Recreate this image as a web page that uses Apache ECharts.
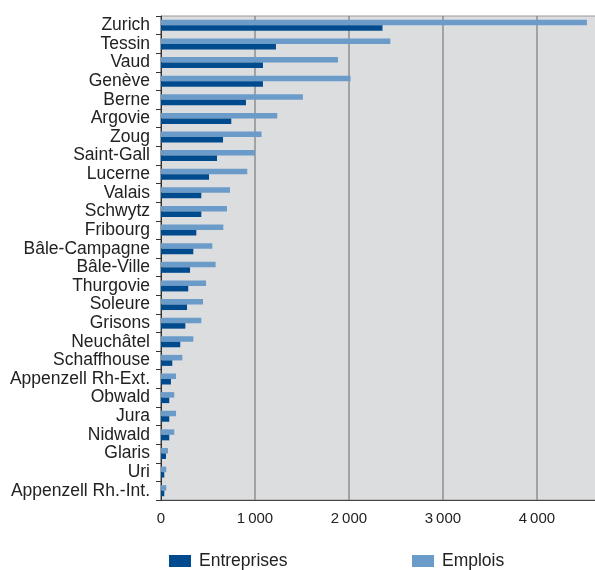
<!DOCTYPE html>
<html><head><meta charset="utf-8">
<script src="https://cdn.jsdelivr.net/npm/echarts@6/dist/echarts.min.js"></script>
<style>html,body{margin:0;padding:0;background:#fff}#c{width:595px;height:570px}</style>
</head><body><div id="c"></div>
<script>
var cantons = ['Zurich','Tessin','Vaud','Genève','Berne','Argovie','Zoug','Saint-Gall','Lucerne','Valais','Schwytz','Fribourg','Bâle-Campagne','Bâle-Ville','Thurgovie','Soleure','Grisons','Neuchâtel','Schaffhouse','Appenzell Rh-Ext.','Obwald','Jura','Nidwald','Glaris','Uri','Appenzell Rh.-Int.'];
var entreprises = [2357,1223,1085,1085,904,748,660,596,511,429,429,376,344,309,290,277,259,205,120,106,88,88,88,53,35,35];
var emplois = [4532,2440,1883,2017,1510,1237,1070,1000,918,734,702,663,546,581,479,447,429,344,227,160,141,160,141,74,56,56];
var xTicks = [0,1000,2000,3000,4000];

var chart = echarts.init(document.getElementById('c'));
var font = 'Liberation Sans, Arial, sans-serif';
chart.setOption({
  animation: false,
  grid: {left: 161, top: 16, width: 445, bottom: 70, outerBoundsMode: 'none', show: true, backgroundColor: '#dcdddf', borderColor: '#9a9a9a', borderWidth: 1, containLabel: false},
  legend: [
    {data: ['Entreprises'], left: 164, top: 547, icon: 'rect', itemWidth: 22, itemHeight: 12, textStyle: {fontFamily: font, fontSize: 17.5, color: '#222', padding: [0,0,0,3]}},
    {data: ['Emplois'], left: 407, top: 547, icon: 'rect', itemWidth: 22, itemHeight: 12, textStyle: {fontFamily: font, fontSize: 17.5, color: '#222', padding: [0,0,0,3]}}
  ],
  xAxis: {
    type: 'value', min: 0, max: 4735, interval: 1000,
    axisLine: {show: true, lineStyle: {color: '#444', width: 1}},
    axisTick: {show: false},
    splitLine: {show: true, lineStyle: {color: '#8e8e8e', width: 1.5}},
    axisLabel: {fontFamily: font, fontSize: 15, color: '#222', margin: 11, showMaxLabel: false,
      formatter: function (v) { return xTicks.indexOf(v) < 0 ? '' : (v >= 1000 ? Math.floor(v/1000) + '\u2009' + '000' : String(v)); }}
  },
  yAxis: {
    type: 'category', inverse: true, data: cantons,
    axisLine: {show: true, onZero: false, lineStyle: {color: '#333', width: 1}},
    axisTick: {show: true, length: 5, lineStyle: {color: '#333'}},
    splitLine: {show: false},
    axisLabel: {fontFamily: font, fontSize: 17.5, color: '#222', margin: 11, interval: 0}
  },
  series: [
    {name: 'Emplois', type: 'bar', data: emplois, barWidth: 5.5, barGap: '0%', itemStyle: {color: '#6b9bc9'}},
    {name: 'Entreprises', type: 'bar', data: entreprises, barWidth: 5.5, barGap: '0%', itemStyle: {color: '#004b8d'}}
  ]
});
</script></body></html>
